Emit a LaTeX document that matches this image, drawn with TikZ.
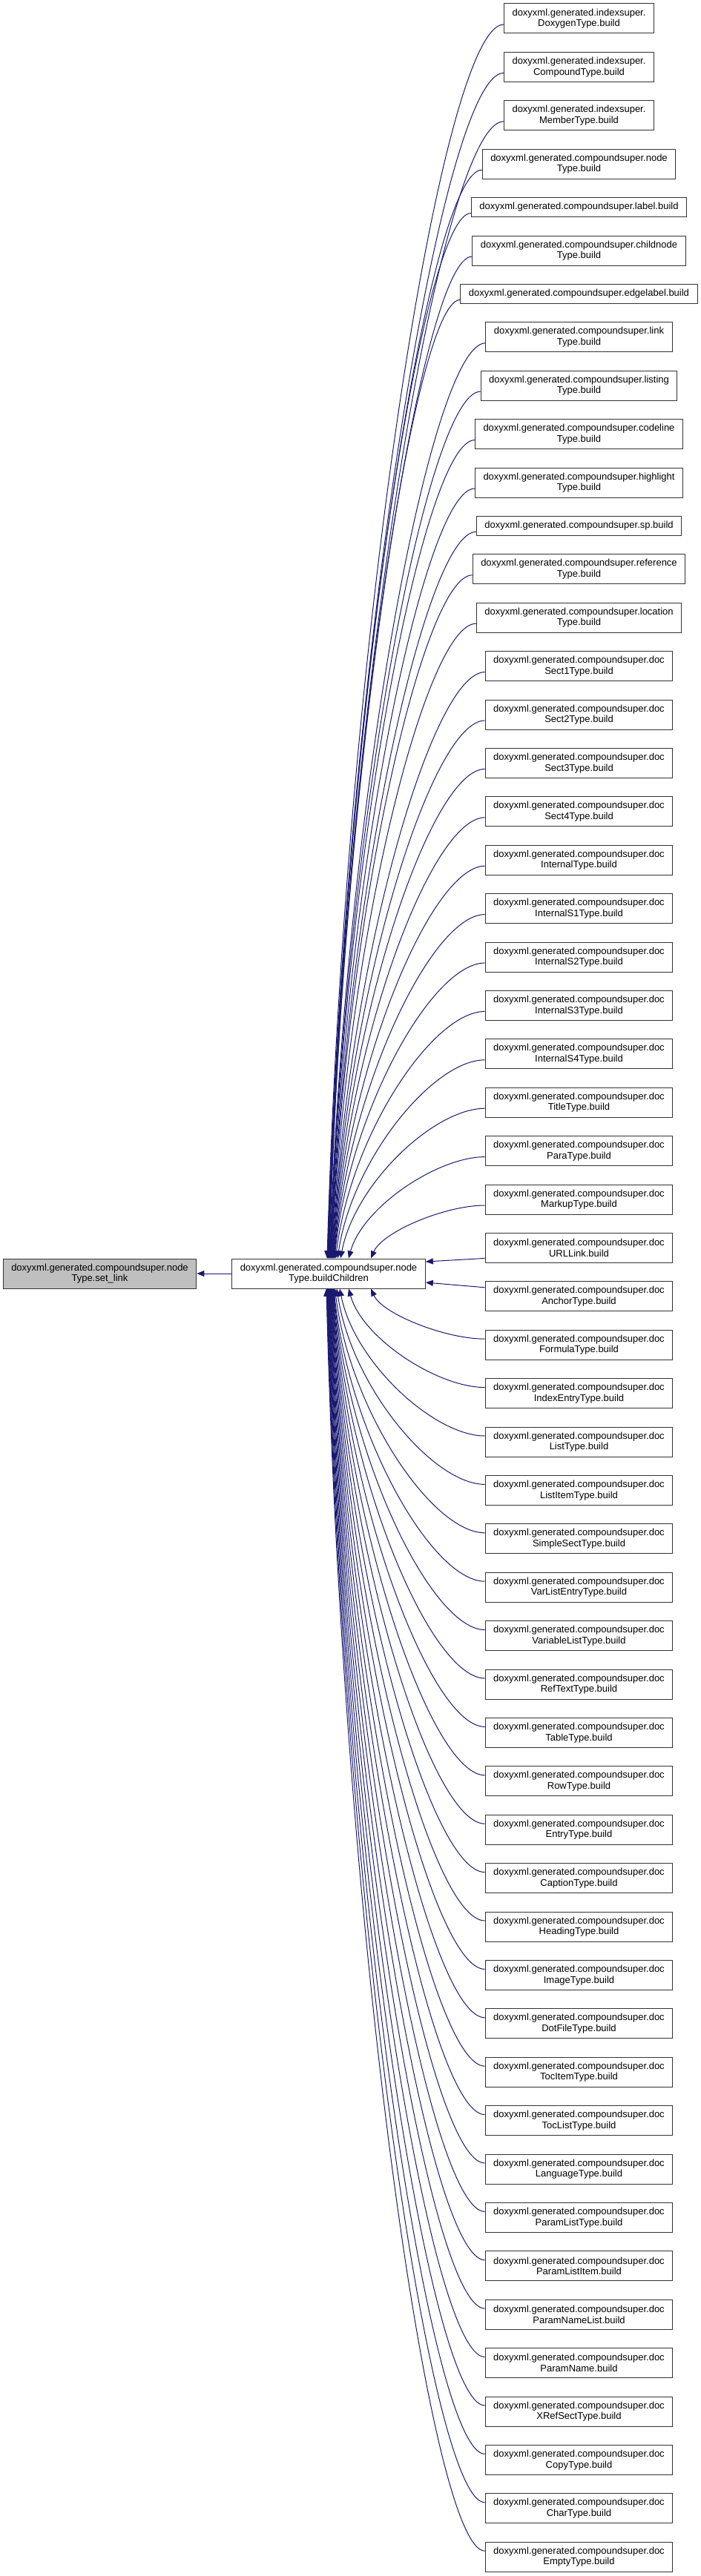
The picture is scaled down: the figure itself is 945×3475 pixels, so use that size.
\documentclass[tikz,border=0pt]{standalone}
\usepackage{fontspec}
\setmainfont{Liberation Sans}
\usetikzlibrary{arrows.meta,calc}
\definecolor{edgeblue}{RGB}{25,25,112}
\definecolor{boxgray}{RGB}{191,191,191}
\begin{document}
\begin{tikzpicture}[x=0.75pt,y=-0.75pt,
  nbox/.style={draw=black!80, line width=0.75pt, fill=white, inner xsep=8.3pt, inner ysep=0pt,
    align=center, font=\fontsize{9.75pt}{11pt}\selectfont},
  twoline/.style={nbox, minimum height=30pt},
  oneline/.style={nbox, minimum height=19.5pt},
  conn/.style={draw=edgeblue, line width=0.75pt, -{Triangle[length=7.5pt,width=6pt]}},
]
\useasboundingbox (0,0) rectangle (945,3475);

% left and middle nodes
\node[twoline, fill=boxgray] (left) at (134.5,1718) {doxyxml.generated.compoundsuper.node\\Type.set\_link};
\node[twoline] (mid) at (443,1718) {doxyxml.generated.compoundsuper.node\\Type.buildChildren};

% right column
\node[twoline] (n1) at (780.5,25) {doxyxml.generated.indexsuper.\\DoxygenType.build};
\node[twoline] (n2) at (780.5,90.4) {doxyxml.generated.indexsuper.\\CompoundType.build};
\node[twoline] (n3) at (780.5,155.8) {doxyxml.generated.indexsuper.\\MemberType.build};
\node[twoline] (n4) at (780.5,221.2) {doxyxml.generated.compoundsuper.node\\Type.build};
\node[oneline] (n5) at (780.5,279.6) {doxyxml.generated.compoundsuper.label.build};
\node[twoline] (n6) at (780.5,338.0) {doxyxml.generated.compoundsuper.childnode\\Type.build};
\node[oneline] (n7) at (780.5,396.4) {doxyxml.generated.compoundsuper.edgelabel.build};
\node[twoline] (n8) at (780.5,454.8) {doxyxml.generated.compoundsuper.link\\Type.build};
\node[twoline] (n9) at (780.5,520.2) {doxyxml.generated.compoundsuper.listing\\Type.build};
\node[twoline] (n10) at (780.5,585.6) {doxyxml.generated.compoundsuper.codeline\\Type.build};
\node[twoline] (n11) at (780.5,651.0) {doxyxml.generated.compoundsuper.highlight\\Type.build};
\node[oneline] (n12) at (780.5,709.4) {doxyxml.generated.compoundsuper.sp.build};
\node[twoline] (n13) at (780.5,767.8) {doxyxml.generated.compoundsuper.reference\\Type.build};
\node[twoline] (n14) at (780.5,833.2) {doxyxml.generated.compoundsuper.location\\Type.build};
\foreach \nm [count=\k from 15] in {Sect1Type,Sect2Type,Sect3Type,Sect4Type,InternalType,InternalS1Type,InternalS2Type,InternalS3Type,InternalS4Type,TitleType,ParaType,MarkupType,URLLink,AnchorType,FormulaType,IndexEntryType,ListType,ListItemType,SimpleSectType,VarListEntryType,VariableListType,RefTextType,TableType,RowType,EntryType,CaptionType,HeadingType,ImageType,DotFileType,TocItemType,TocListType,LanguageType,ParamListType,ParamListItem,ParamNameList,ParamName,XRefSectType,CopyType,CharType,EmptyType}
  \node[twoline] (n\k) at (780.5,{767.8+(\k-13)*65.4}) {doxyxml.generated.compoundsuper.doc\\\nm.build};

% edges from upper nodes to top of middle node
\foreach \i/\xe in {1/441,2/441.5,3/442,4/442.5,5/443,6/443.5,7/444,8/444.5,9/445,10/445.5,11/446,12/446.5,13/447,14/447.5,15/448,16/448.5,17/449,18/449.5,19/450,20/450.5,21/451,22/452.5,23/455,24/459,25/470,26/500}
  \draw[conn] let \p1=($(n\i.west)+(0,8)$), \p2=(\xe,0 |- mid.north) in
    (\p1) .. controls ({\x1-0.35*(\x1-\x2)},\y1) and ({\x2+0.1*(\x1-\x2)},{0.5*\y1+0.5*\y2}) .. (\p2);

% edges from lower nodes to bottom of middle node
\foreach \i/\xe in {29/500,30/470,31/458,32/454,33/451.5,34/450,35/449.5,36/449,37/448.5,38/448,39/447.5,40/447,41/446.5,42/446,43/445.5,44/445,45/444.5,46/444,47/443.5,48/443,49/442.5,50/442,51/441.5,52/441,53/440.5,54/440}
  \draw[conn] let \p1=($(n\i.west)+(0,-8)$), \p2=(\xe,0 |- mid.south) in
    (\p1) .. controls ({\x1-0.35*(\x1-\x2)},\y1) and ({\x2+0.1*(\x1-\x2)},{0.5*\y1+0.5*\y2}) .. (\p2);

% side edges
\draw[conn] ($(n27.west)+(0,14)$) -- ($(mid.east)+(0,-16)$);
\draw[conn] ($(n28.west)+(0,-12)$) -- ($(mid.east)+(0,12)$);

% edge to the left node
\draw[conn] (mid.west) -- (left.east);
\end{tikzpicture}
\end{document}
